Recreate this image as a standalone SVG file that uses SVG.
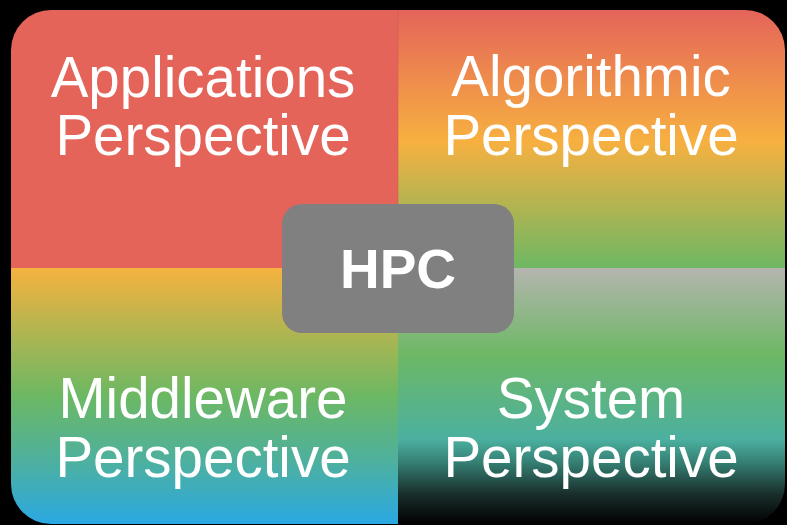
<svg xmlns="http://www.w3.org/2000/svg" width="787" height="525" viewBox="0 0 787 525">
  <defs>
    <clipPath id="frame">
      <rect x="11" y="10" width="774" height="514" rx="40" ry="40"/>
    </clipPath>
    <linearGradient id="gAlgo" x1="0" y1="0" x2="0" y2="1">
      <stop offset="0" stop-color="#E4645A"/>
      <stop offset="0.51" stop-color="#F7B040"/>
      <stop offset="1" stop-color="#6EB863"/>
    </linearGradient>
    <linearGradient id="gMid" x1="0" y1="0" x2="0" y2="1">
      <stop offset="0" stop-color="#F5B23F"/>
      <stop offset="0.5" stop-color="#6CB863"/>
      <stop offset="0.76" stop-color="#4DB0A0"/>
      <stop offset="1" stop-color="#2AA8E2"/>
    </linearGradient>
    <linearGradient id="gSys" x1="0" y1="0" x2="0" y2="1">
      <stop offset="0" stop-color="#B5B5AF"/>
      <stop offset="0.34" stop-color="#6DB865"/>
      <stop offset="0.67" stop-color="#4BB0A0"/>
      <stop offset="0.76" stop-color="#357F73"/>
      <stop offset="0.88" stop-color="#1A302D"/>
      <stop offset="1" stop-color="#000000"/>
    </linearGradient>
    <style>
      .label { font-family: "Liberation Sans", Arial, sans-serif; font-size: 56.5px; fill: #FFFFFF; text-anchor: middle; }
      .hub { font-family: "Liberation Sans", Arial, sans-serif; font-size: 55px; font-weight: bold; fill: #FFFFFF; text-anchor: middle; }
    </style>
  </defs>

  <rect x="0" y="0" width="787" height="525" fill="#000000"/>

  <!-- four quadrants clipped to the rounded frame -->
  <g clip-path="url(#frame)">
    <g id="applications">
      <rect x="11" y="10" width="387" height="258" fill="#E4645A"/>
      <text class="label" x="203" y="97">Applications</text>
      <text class="label" x="203" y="155">Perspective</text>
    </g>
    <g id="algorithmic">
      <rect x="398" y="10" width="387" height="258" fill="url(#gAlgo)"/>
      <line x1="398" y1="10" x2="398" y2="268" stroke="#C9584F" stroke-width="1" stroke-opacity="0.5"/>
      <text class="label" x="591" y="96">Algorithmic</text>
      <text class="label" x="591" y="155">Perspective</text>
    </g>
    <g id="middleware">
      <rect x="11" y="268" width="387" height="256" fill="url(#gMid)"/>
      <text class="label" x="203" y="418">Middleware</text>
      <text class="label" x="203" y="477">Perspective</text>
    </g>
    <g id="system">
      <rect x="398" y="268" width="387" height="256" fill="url(#gSys)"/>
      <text class="label" x="591" y="418">System</text>
      <text class="label" x="591" y="477">Perspective</text>
    </g>
  </g>

  <g id="connectors"/>

  <!-- central hub -->
  <g id="hpc">
    <rect x="282" y="204" width="232" height="129" rx="20" ry="20" fill="#808080"/>
    <text class="hub" x="398" y="288">HPC</text>
  </g>
</svg>
